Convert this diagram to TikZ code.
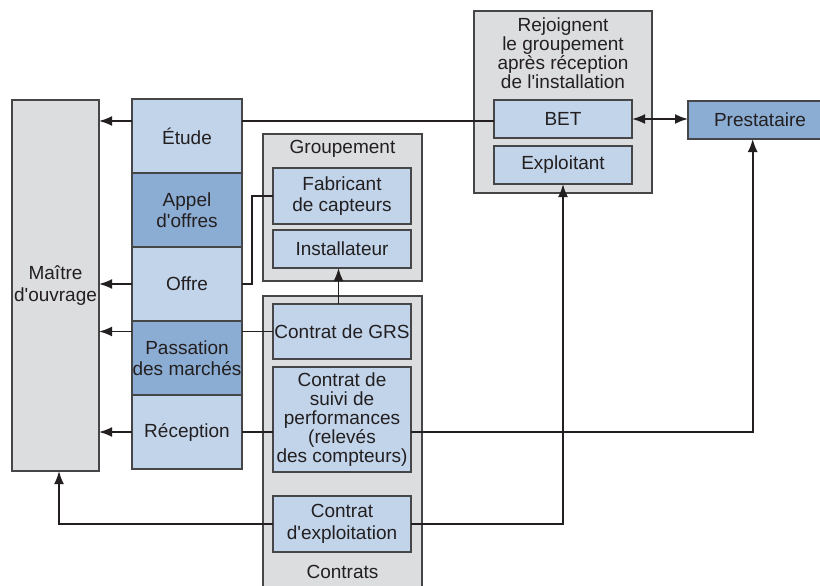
\documentclass[tikz,border=0pt]{standalone}
\usepackage{fontspec}
\setmainfont{Liberation Sans}
\newfontfamily\lsans{Liberation Sans}
\usetikzlibrary{arrows.meta}
\definecolor{lblue}{RGB}{193,212,234}
\definecolor{dblue}{RGB}{139,173,211}
\definecolor{lgray}{RGB}{220,221,223}
\definecolor{edge}{RGB}{70,70,72}
\definecolor{ink}{RGB}{35,31,32}
\begin{document}
\begin{tikzpicture}[x=1pt,y=-1pt,
  every node/.style={font=\lsans\fontsize{19}{21.5}\selectfont, text=ink, align=center, inner sep=0pt, outer sep=0pt},
  box/.style={draw=edge, line width=1.3pt, rectangle},
  lb/.style={box, fill=lblue},
  db/.style={box, fill=dblue},
  gb/.style={box, fill=lgray},
  conn/.style={draw=ink, line width=1.8pt},
  arr/.style={conn, -{Latex[length=13pt,width=10pt]}},
  darr/.style={conn, {Latex[length=13pt,width=10pt]}-{Latex[length=13pt,width=10pt]}},
  tight/.style={font=\lsans\fontsize{19}{19}\selectfont}
]
\useasboundingbox (0,0) rectangle (820,586);
\clip (0,0) rectangle (820,586);
\fill[white] (0,0) rectangle (820,586);

% containers
\node[gb, minimum width=87pt, minimum height=371pt, anchor=north west] (maitre) at (12,100) {};
\node at (55.5,285.5) (maitreT) {Maître\\d'ouvrage};

\node[gb, minimum width=159pt, minimum height=147pt, anchor=north west] (grp) at (263,134) {};
\node at (342.5,149) (grpT) {Groupement};
\node[gb, minimum width=159pt, minimum height=304pt, anchor=north west] (ctr) at (263,296) {};
\node at (342.5,572) (ctrT) {Contrats};
\node[gb, minimum width=178pt, minimum height=182pt, anchor=north west] (rej) at (474,11) {};
\node[tight] at (563,53) (rejT) {Rejoignent\\le groupement\\après réception\\de l'installation};

% left column
\node[lb, minimum width=110pt, minimum height=74pt, anchor=north west] (etude) at (132,99) {Étude};
\node[db, minimum width=110pt, minimum height=74pt, anchor=north west] (appel) at (132,173) {Appel\\d'offres};
\node[lb, minimum width=110pt, minimum height=74pt, anchor=north west] (offre) at (132,247) {Offre};
\node[db, minimum width=110pt, minimum height=74pt, anchor=north west] (pass) at (132,321) {Passation\\des marchés};
\node[lb, minimum width=110pt, minimum height=74pt, anchor=north west] (recep) at (132,395) {Réception};

% groupement
\node[lb, minimum width=138pt, minimum height=56pt, anchor=north west] (fab) at (273,168) {Fabricant\\de capteurs};
\node[lb, minimum width=138pt, minimum height=38pt, anchor=north west] (inst) at (273,230) {Installateur};

% contrats
\node[lb, minimum width=138pt, minimum height=55pt, anchor=north west] (grs) at (273,304) {Contrat de GRS};
\node[lb, tight, minimum width=138pt, minimum height=105pt, anchor=north west] (suivi) at (273,367) {Contrat de\\suivi de\\performances\\(relevés\\des compteurs)};
\node[lb, minimum width=138pt, minimum height=56pt, anchor=north west] (expl) at (273,496) {Contrat\\d'exploitation};

% rejoignent
\node[lb, minimum width=138pt, minimum height=38pt, anchor=north west] (bet) at (494,100) {BET};
\node[lb, minimum width=138pt, minimum height=38pt, anchor=north west] (exploitant) at (494,146) {Exploitant};

% prestataire
\node[db, minimum width=144pt, minimum height=38pt, anchor=north west] (prest) at (688,101) {};
\node at (760,120) (prestT) {Prestataire};

% coordinates
\coordinate (yE) at (0,121);
\coordinate (xO) at (251.7,0);
\coordinate (xI) at (338.5,0);
\coordinate (xP) at (752.7,0);
\coordinate (xX) at (563,0);
\coordinate (xM) at (59,0);

% connectors
\draw[conn] (bet.west |- yE) -- (etude.east |- yE);
\draw[arr] (etude.west |- yE) -- (maitre.east |- yE);

\draw[conn] (fab.west) -- (fab.west -| xO) -- (xO |- offre.east) -- (offre.east);
\draw[arr] (offre.west) -- (maitre.east |- offre.west);

\draw[conn] (grs.west) -- (pass.east |- grs.west);
\draw[arr] (pass.west |- grs.west) -- (maitre.east |- grs.west);

\draw[conn] (suivi.west |- recep.east) -- (recep.east);
\draw[arr] (recep.west) -- (maitre.east |- recep.west);
\draw[arr] (suivi.east |- recep.east) -- (xP |- recep.east) -- (xP |- prest.south);

\draw[arr] (grs.north -| xI) -- (inst.south -| xI);

\draw[arr] (expl.west) -- (xM |- expl.west) -- (xM |- maitre.south);
\draw[arr] (expl.east) -- (xX |- expl.east) -- (exploitant.south);

\draw[darr] (bet.east) -- (prest.west |- bet.east);
\end{tikzpicture}
\end{document}
